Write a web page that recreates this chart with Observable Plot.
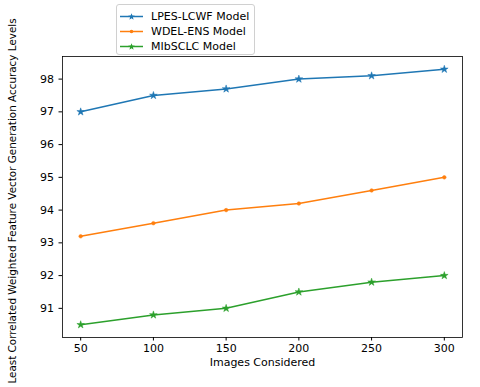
<!DOCTYPE html>
<html>
<head>
<meta charset="utf-8">
<script src="https://cdn.jsdelivr.net/npm/d3@7"></script>
<script src="https://cdn.jsdelivr.net/npm/@observablehq/plot@0.6"></script>
<style>
  html, body { margin: 0; padding: 0; background: #fff; }
  #wrap { position: relative; width: 480px; height: 387px; overflow: hidden; font-family: "DejaVu Sans", sans-serif; }
  #legend { position: absolute; left: 116px; top: 4px; width: 139px; height: 51px; border: 1px solid #d0d0d0; border-radius: 3px; background: rgba(255,255,255,0.85); box-sizing: border-box; font-size: 11px; }
  .row { position: absolute; left: 0; height: 14px; display: flex; align-items: center; }
  .row svg { margin-left: 3px; }
  .row span { margin-left: 8px; color: #000; white-space: nowrap; }
</style>
</head>
<body>
<div id="wrap"><div id="legend"></div></div>
<script>
const images = [50, 100, 150, 200, 250, 300];
const lpes = [97.0, 97.5, 97.7, 98.0, 98.1, 98.3];
const wdel = [93.2, 93.6, 94.0, 94.2, 94.6, 95.0];
const mib = [90.5, 90.8, 91.0, 91.5, 91.8, 92.0];
const seriesNames = ["LPES-LCWF Model", "WDEL-ENS Model", "MIbSCLC Model"];
const seriesColors = ["#1f77b4", "#ff7f0e", "#2ca02c"];
const seriesSymbols = ["star", "circle", "star"];
const xTicks = [50, 100, 150, 200, 250, 300];
const yTicks = [91, 92, 93, 94, 95, 96, 97, 98];
const xLabel = "Images Considered";
const yLabel = "Least Correlated Weighted Feature Vector Generation Accuracy Levels";

const allSeries = [lpes, wdel, mib];
const rows = [];
allSeries.forEach((vals, si) => vals.forEach((v, i) => rows.push({x: images[i], y: v, s: seriesNames[si]})));

const xMin = d3.min(images), xMax = d3.max(images);
const allY = allSeries.flat();
const yMin = d3.min(allY), yMax = d3.max(allY);
const xPad = (xMax - xMin) * 0.05, yPad = (yMax - yMin) * 0.05;

const marks = [
  Plot.axisX({ticks: xTicks, tickSize: 3.5, tickPadding: 3, label: null, fontSize: 11}),
  Plot.axisY({ticks: yTicks, tickSize: 3.5, tickPadding: 5, label: null, fontSize: 11}),
  Plot.frame({stroke: "#000", strokeWidth: 0.8}),
  Plot.text([xLabel], {frameAnchor: "bottom", dy: 28, fontSize: 11}),
  Plot.text([yLabel], {frameAnchor: "left", textAnchor: "middle", dx: -50, dy: 4, rotate: -90, fontSize: 10.4})
];
seriesNames.forEach((name, si) => {
  const data = rows.filter(d => d.s === name);
  marks.push(Plot.line(data, {x: "x", y: "y", stroke: seriesColors[si], strokeWidth: 1.5}));
  marks.push(Plot.dot(data, {x: "x", y: "y", symbol: seriesSymbols[si], fill: seriesColors[si], stroke: seriesColors[si], r: seriesSymbols[si] === "star" ? 2.4 : 1.8, strokeWidth: 0.5}));
});

const chart = Plot.plot({
  width: 480,
  height: 387,
  marginLeft: 62,
  marginRight: 18,
  marginTop: 56,
  marginBottom: 50,
  style: {fontFamily: "DejaVu Sans, sans-serif", fontSize: "11px", color: "#000", background: "transparent", overflow: "visible"},
  x: {domain: [xMin - xPad, xMax + xPad]},
  y: {domain: [yMin - yPad, yMax + yPad]},
  marks
});
const wrap = document.getElementById("wrap");
wrap.insertBefore(chart, wrap.firstChild);

const legend = document.getElementById("legend");
seriesNames.forEach((name, i) => {
  const row = document.createElement("div");
  row.className = "row";
  row.style.top = (4 + i * 15) + "px";
  const sym = seriesSymbols[i] === "star"
    ? `<path d="M11.5,4.2 L12.4,6.6 L14.9,6.7 L12.9,8.3 L13.6,10.7 L11.5,9.3 L9.4,10.7 L10.1,8.3 L8.1,6.7 L10.6,6.6Z" fill="${seriesColors[i]}"/>`
    : `<circle cx="11.5" cy="7.5" r="1.8" fill="${seriesColors[i]}"/>`;
  row.innerHTML = `<svg width="23" height="14"><line x1="0" x2="23" y1="7.5" y2="7.5" stroke="${seriesColors[i]}" stroke-width="1.5"/>${sym}</svg><span>${name}</span>`;
  legend.appendChild(row);
});
</script>
</body>
</html>
